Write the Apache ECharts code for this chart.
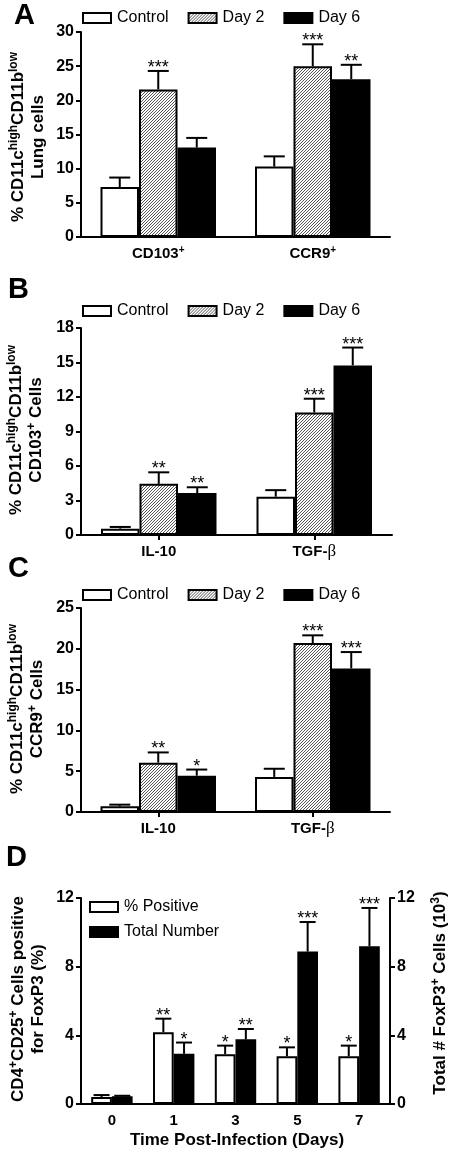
<!DOCTYPE html>
<html><head><meta charset="utf-8">
<script src="https://cdn.jsdelivr.net/npm/echarts@6/dist/echarts.min.js"></script>
<style>html,body{margin:0;padding:0;background:#fff}#c{width:452px;height:1154px}</style>
</head><body><div id="c"></div><script>
// ---------- data ----------
const seriesNamesABC = ['Control', 'Day 2', 'Day 6'];
// Panel A
const catsA = ['CD103+', 'CCR9+'];
const A_control = [7.3, 10.3];   const A_controlErr = [8.7, 11.8];  const A_controlStars = ['', ''];
const A_day2 = [21.6, 25.0];     const A_day2Err = [24.3, 28.2];    const A_day2Stars = ['***', '***'];
const A_day6 = [13.1, 23.1];     const A_day6Err = [14.5, 25.2];    const A_day6Stars = ['', '**'];
const A_ticks = {max: 30, interval: 5};
// Panel B
const catsB = ['IL-10', 'TGF-β'];
const B_control = [0.55, 3.33];  const B_controlErr = [0.7, 3.9];   const B_controlStars = ['', ''];
const B_day2 = [4.45, 10.65];    const B_day2Err = [5.45, 11.85];   const B_day2Stars = ['**', '***'];
const B_day6 = [3.65, 14.75];    const B_day6Err = [4.15, 16.3];    const B_day6Stars = ['**', '***'];
const B_ticks = {max: 18, interval: 3};
// Panel C
const catsC = ['IL-10', 'TGF-β'];
const C_control = [0.7, 4.3];    const C_controlErr = [0.9, 5.3];   const C_controlStars = ['', ''];
const C_day2 = [6.05, 20.7];     const C_day2Err = [7.3, 21.65];    const C_day2Stars = ['**', '***'];
const C_day6 = [4.45, 17.6];     const C_day6Err = [5.2, 19.6];     const C_day6Stars = ['*', '***'];
const C_ticks = {max: 25, interval: 5};
// Panel D
const daysD = ['0', '1', '3', '5', '7'];
const D_pct = [0.41, 4.18, 2.9, 2.78, 2.78];   const D_pctErr = [0.52, 4.97, 3.4, 3.3, 3.4];
const D_pctStars = ['', '**', '*', '*', '*'];
const D_total = [0.45, 2.92, 3.77, 8.88, 9.19]; const D_totalErr = [0.48, 3.58, 4.37, 10.6, 11.42];
const D_totalStars = ['', '*', '**', '***', '***'];
const D_ticks = {max: 12, interval: 4};

// ---------- styling helpers ----------
const FF = '"Liberation Sans", Arial, sans-serif';
function hatch() {
  const c = document.createElement('canvas'); c.width = 3; c.height = 3;
  const ctx = c.getContext('2d');
  ctx.fillStyle = '#fff'; ctx.fillRect(0, 0, 3, 3);
  ctx.fillStyle = '#555';
  for (let x = 0; x < 3; x++) { ctx.fillRect(x, 2 - x, 1, 1); }
  return c;
}
const HATCH = {image: hatch(), repeat: 'repeat'};
const fills = ['#fff', HATCH, '#000'];

const grids = [
  {left: 81, top: 32, width: 309, height: 205},
  {left: 81, top: 328, width: 311, height: 207},
  {left: 81, top: 608, width: 309, height: 204},
  {left: 81, top: 898, width: 309, height: 206}
];

function catFormatter(v) {
  if (v.endsWith('+')) return '{b|' + v.slice(0, -1) + '}{s|+}';
  if (v.indexOf('β') >= 0) return '{b|' + v.replace('β', '') + '}{g|β}';
  return '{b|' + v + '}';
}
const catRich = {
  b: {fontWeight: 'bold', fontSize: 15, fontFamily: FF, color: '#000', lineHeight: 18},
  s: {fontWeight: 'bold', fontSize: 10, fontFamily: FF, color: '#000', lineHeight: 10, verticalAlign: 'top'},
  g: {fontSize: 17, fontFamily: '"Liberation Serif", serif', color: '#000', lineHeight: 18}
};

function xAxis(gi, data, ticks) {
  return {
    gridIndex: gi, type: 'category', data: data,
    axisLine: {show: true, lineStyle: {color: '#000', width: 2}},
    axisTick: {show: ticks, alignWithLabel: true, length: 5, lineStyle: {color: '#000', width: 2}},
    axisLabel: {color: '#000', margin: 8, formatter: catFormatter, rich: catRich},
    splitLine: {show: false}
  };
}
function yAxis(gi, t, pos) {
  return {
    gridIndex: gi, type: 'value', min: 0, max: t.max, interval: t.interval, position: pos || 'left',
    axisLine: {show: true, lineStyle: {color: '#000', width: 2}},
    axisTick: {show: true, length: 5, lineStyle: {color: '#000', width: 2}},
    axisLabel: {color: '#000', fontWeight: 'bold', fontSize: 16, fontFamily: FF, margin: 7},
    splitLine: {show: false}
  };
}
function barSeries(name, gi, yi, data, fill, bw) {
  return {
    name: name, type: 'bar', xAxisIndex: gi, yAxisIndex: yi, data: data,
    barWidth: bw, barGap: '0%', silent: true,
    itemStyle: {color: fill, borderColor: '#000', borderWidth: 2}
  };
}
function errSeries(gi, yi, vals, errs, stars, k, n, bw, capW) {
  return {
    type: 'custom', xAxisIndex: gi, yAxisIndex: yi, z: 5, silent: true,
    data: vals.map((v, i) => [i, v, errs[i]]),
    encode: {x: 0, y: [1, 2]},
    renderItem: function (params, api) {
      const i = params.dataIndex;
      const base = api.coord([api.value(0), api.value(1)]);
      const top = api.coord([api.value(0), api.value(2)]);
      const x = base[0] + (k - (n - 1) / 2) * bw;
      const ch = [
        {type: 'line', shape: {x1: x, y1: base[1], x2: x, y2: top[1]}, style: {stroke: '#000', lineWidth: 2}},
        {type: 'line', shape: {x1: x - capW / 2, y1: top[1], x2: x + capW / 2, y2: top[1]}, style: {stroke: '#000', lineWidth: 2}}
      ];
      if (stars[i]) ch.push({type: 'text', style: {text: stars[i], x: x, y: top[1] + 6, align: 'center', verticalAlign: 'bottom', font: '18px ' + FF, fill: '#000'}});
      return {type: 'group', children: ch};
    }
  };
}

const xAxes = [xAxis(0, catsA, false), xAxis(1, catsB, true), xAxis(2, catsC, true), xAxis(3, daysD, false)];
const yAxes = [yAxis(0, A_ticks), yAxis(1, B_ticks), yAxis(2, C_ticks), yAxis(3, D_ticks), yAxis(3, D_ticks, 'right')];

const series = [];
const panels = [
  [[A_control, A_controlErr, A_controlStars], [A_day2, A_day2Err, A_day2Stars], [A_day6, A_day6Err, A_day6Stars]],
  [[B_control, B_controlErr, B_controlStars], [B_day2, B_day2Err, B_day2Stars], [B_day6, B_day6Err, B_day6Stars]],
  [[C_control, C_controlErr, C_controlStars], [C_day2, C_day2Err, C_day2Stars], [C_day6, C_day6Err, C_day6Stars]]
];
panels.forEach((p, gi) => {
  const bw = 38.5;
  p.forEach((s, k) => {
    series.push(barSeries(seriesNamesABC[k], gi, gi, s[0], fills[k], bw));
  });
  p.forEach((s, k) => {
    series.push(errSeries(gi, gi, s[0], s[1], s[2], k, 3, bw, 21));
  });
});
series.push(barSeries('% Positive', 3, 3, D_pct, '#fff', 20.7));
series.push(barSeries('Total Number', 3, 4, D_total, '#000', 20.7));
series.push(errSeries(3, 3, D_pct, D_pctErr, D_pctStars, 0, 2, 20.7, 16));
series.push(errSeries(3, 4, D_total, D_totalErr, D_totalStars, 1, 2, 20.7, 16));

function legend(left, top, data, orient, gap) {
  return {
    left: left, top: top, padding: 0, orient: orient || 'horizontal', itemGap: gap,
    itemWidth: 28, itemHeight: 10, selectedMode: false, icon: 'rect', data: data,
    textStyle: {fontSize: 16, fontFamily: FF, color: '#000', padding: [0, 0, 0, 1]}
  };
}
const legends = [
  legend(82, 10, seriesNamesABC, 'horizontal', 19),
  legend(82, 303, seriesNamesABC, 'horizontal', 19),
  legend(82, 587, seriesNamesABC, 'horizontal', 19),
  legend(89, 899, ['% Positive', 'Total Number'], 'vertical', 9)
];

const titleRich = {
  t: {fontWeight: 'bold', fontSize: 17, fontFamily: FF, fill: '#000', lineHeight: 20},
  s: {fontWeight: 'bold', fontSize: 12, fontFamily: FF, fill: '#000', lineHeight: 10, verticalAlign: 'top'}
};
function vTitle(x, y, text) {
  return {type: 'text', x: x, y: y, rotation: Math.PI / 2, silent: true,
    style: {text: text, rich: titleRich, align: 'center', verticalAlign: 'middle', fill: '#000'}};
}
function letter(x, y, t) {
  return {type: 'text', x: x, y: y, silent: true,
    style: {text: t, font: 'bold 29px ' + FF, fill: '#000', align: 'left', verticalAlign: 'middle'}};
}
const graphics = [
  letter(14, 16, 'A'), letter(8, 290, 'B'), letter(8, 569, 'C'), letter(6, 858, 'D'),
  vTitle(28, 137, '{t|% CD11c}{s|high}{t|CD11b}{s|low}\n{t|Lung cells}'),
  vTitle(26, 430, '{t|% CD11c}{s|high}{t|CD11b}{s|low}\n{t|CD103}{s|+}{t| Cells}'),
  vTitle(27, 709, '{t|% CD11c}{s|high}{t|CD11b}{s|low}\n{t|CCR9}{s|+}{t| Cells}'),
  vTitle(28, 999, '{t|CD4}{s|+}{t|CD25}{s|+}{t| Cells positive}\n{t|for FoxP3 (%)}'),
  vTitle(440, 993, '{t|Total # FoxP3}{s|+}{t| Cells (10}{s|3}{t|)}'),
  {type: 'text', x: 237, y: 1140, silent: true,
    style: {text: 'Time Post-Infection (Days)', font: 'bold 17px ' + FF, fill: '#000', align: 'center', verticalAlign: 'middle'}}
];

const chart = echarts.init(document.getElementById('c'), null, {renderer: 'canvas'});
chart.setOption({
  animation: false,
  backgroundColor: '#fff',
  grid: grids,
  xAxis: xAxes,
  yAxis: yAxes,
  legend: legends,
  series: series,
  graphic: graphics
});
</script></body></html>
